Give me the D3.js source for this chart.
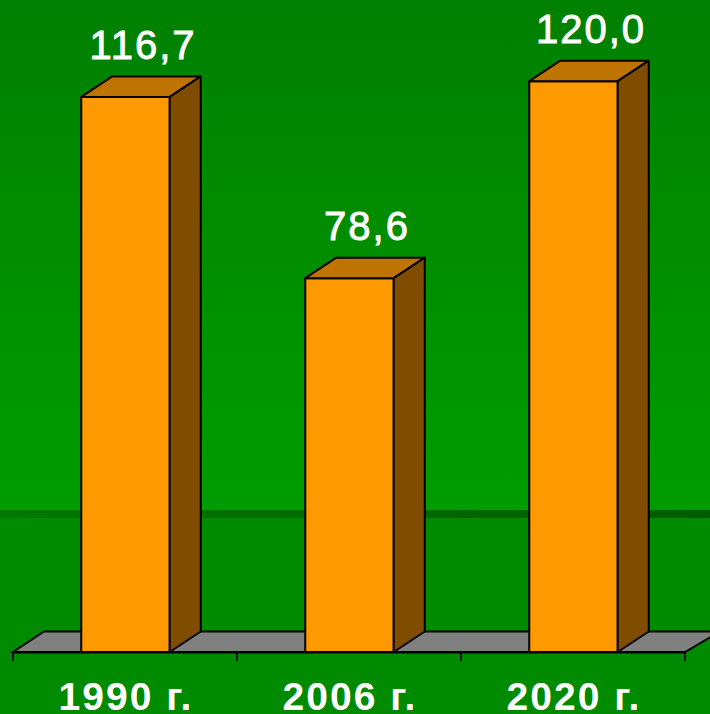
<!DOCTYPE html>
<html><head><meta charset="utf-8"><script src="https://cdn.jsdelivr.net/npm/d3@7"></script>
<style>html,body{margin:0;padding:0;background:#008a00}svg{display:block}</style></head><body><div id="c"></div>
<script>
const categories=["1990 г.","2006 г.","2020 г."];
const values=[116.7,78.6,120.0];
const valueLabels=["116,7","78,6","120,0"];
const W=710,H=714,base=652,depthX=31,depthY=20.5;
const x=d3.scaleBand().domain(categories).range([13,685]);
const y=d3.scaleLinear().domain([0,120]).range([base,81.2]);
const barW=88.5;
const svg=d3.select("#c").append("svg").attr("width",W).attr("height",H);
const defs=svg.append("defs");
const g1=defs.append("linearGradient").attr("id","bg").attr("x1",0).attr("x2",0).attr("y1",0).attr("y2",1);
g1.append("stop").attr("offset",0).attr("stop-color","#008000");
g1.append("stop").attr("offset",1).attr("stop-color","#009c00");
const g2=defs.append("linearGradient").attr("id","band");
g2.append("stop").attr("offset",0).attr("stop-color","#007800");
g2.append("stop").attr("offset",1).attr("stop-color","#005c00");
svg.append("rect").attr("width",W).attr("height",510).attr("fill","url(#bg)");
svg.append("rect").attr("y",510).attr("width",W).attr("height",8).attr("fill","url(#band)");
svg.append("rect").attr("y",518).attr("width",W).attr("height",H-518).attr("fill","#008a00");
const x0=x.range()[0],x1=x.range()[1];
svg.append("path").attr("d",`M${x0},${base}L${x0+depthX},${base-depthY}H${W+10}L${x1},${base}Z`)
 .attr("fill","#808080").attr("stroke","#000").attr("stroke-width",2);
const axis=d3.axisBottom(x).tickSize(0).tickFormat("");
const ag=svg.append("g").attr("transform",`translate(0,${base})`);
ag.call(axis);ag.selectAll(".domain").attr("stroke","#000").attr("stroke-width",2);
[...categories.map(c=>x(c)),x1].forEach(p=>ag.append("line").attr("x1",p).attr("x2",p).attr("y1",0).attr("y2",9).attr("stroke","#000").attr("stroke-width",1.8));
const bars=svg.selectAll("g.bar").data(categories).join("g").attr("class","bar");
const left=c=>x(c)+x.bandwidth()/2-barW/2+.5;
const st=s=>s.attr("stroke","#000").attr("stroke-width",2).attr("stroke-linejoin","round");
bars.append("rect").attr("x",left).attr("y",(c,i)=>y(values[i])).attr("width",barW).attr("height",(c,i)=>base-y(values[i])).attr("fill","#ff9900").call(st);
bars.append("path").attr("d",(c,i)=>{const l=left(c),t=y(values[i]);return `M${l},${t}l${depthX},${-depthY}h${barW}l${-depthX},${depthY}Z`}).attr("fill","#bf7300").call(st);
bars.append("path").attr("d",(c,i)=>{const r=left(c)+barW,t=y(values[i]);return `M${r},${t}l${depthX},${-depthY}V${base-depthY}L${r},${base}Z`}).attr("fill","#804d00").call(st);
const font=s=>s.attr("font-family","Liberation Sans").attr("fill","#fff").attr("text-anchor","middle");
bars.append("text").attr("x",c=>left(c)+barW/2+17.5).attr("y",(c,i)=>y(values[i])-38).text((c,i)=>valueLabels[i]).attr("font-size",40).attr("letter-spacing",2).call(font).style("stroke","#fff").style("stroke-width",.9);
svg.selectAll("text.cat").data(categories).join("text").attr("class","cat").attr("x",c=>x(c)+x.bandwidth()/2+1).attr("y",710).text(c=>c).attr("font-size",39).attr("font-weight",700).attr("letter-spacing",2).call(font);
</script></body></html>
